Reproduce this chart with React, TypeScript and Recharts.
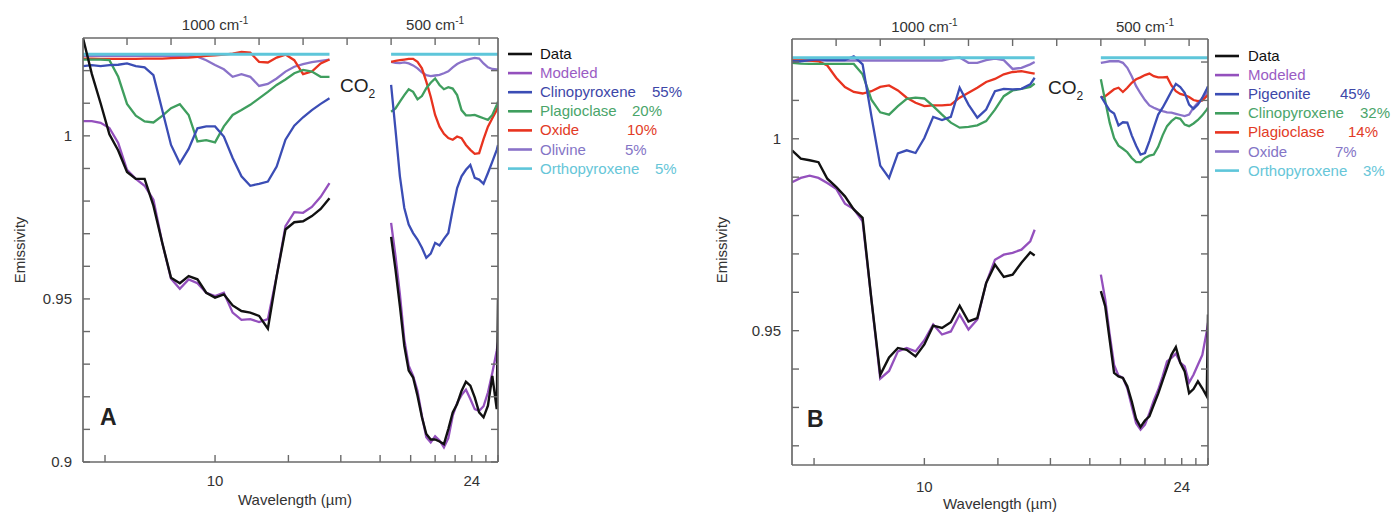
import React from 'react';
import { LineChart, Line, XAxis, YAxis } from 'recharts';

const FONT = '"Liberation Sans", Arial, Helvetica, sans-serif';
const AXIS = '#6a6a6a';
const TXT = '#333333';

// ---------- grids (wavenumber, cm^-1) ----------
const wnLeftA = [1300, 1280, 1260, 1240, 1220, 1200, 1180, 1160, 1140, 1120, 1100, 1080, 1060, 1040, 1020, 1000, 980, 960, 940, 920, 900, 880, 860, 840, 820, 800, 780, 760, 740];
const wnLeftB = [1300, 1280, 1260, 1240, 1220, 1200, 1180, 1160, 1140, 1120, 1100, 1080, 1060, 1040, 1020, 1000, 980, 960, 940, 920, 900, 880, 860, 840, 820, 800, 780, 760, 750];
const wnRight = [600, 590, 580, 570, 560, 550, 540, 530, 520, 510, 500, 490, 480, 470, 460, 450, 440, 430, 420, 410, 400, 390, 380, 370, 360, 357.14];

// ---------- tick labels ----------
const wavelengthTicks = [8, 10, 12, 14, 16, 18, 20, 22, 24, 26, 28];
const wavelengthLabels = [10, 24];
const wavenumberTicks = [1200, 1100, 1000, 900, 800, 700, 600, 500, 400];
const wavenumberLabels = [1000, 500];
const yTicksA = [0.9, 0.91, 0.92, 0.93, 0.94, 0.95, 0.96, 0.97, 0.98, 0.99, 1.0, 1.01, 1.02];
const yTicksB = [0.92, 0.93, 0.94, 0.95, 0.96, 0.97, 0.98, 0.99, 1.0, 1.01, 1.02];
const yLabelsA = [0.9, 0.95, 1];
const yLabelsB = [0.95, 1];

// ---------- Panel A series ----------
const aDataL = [1.0300, 1.0190, 1.0100, 1.0005, 0.9955, 0.9889, 0.9868, 0.9868, 0.9786, 0.9672, 0.9565, 0.9548, 0.9570, 0.9560, 0.9519, 0.9504, 0.9514, 0.9480, 0.9463, 0.9458, 0.9448, 0.9409, 0.9570, 0.9713, 0.9735, 0.9738, 0.9754, 0.9776, 0.9809];
const aDataR = [0.9690, 0.9590, 0.9478, 0.9356, 0.9280, 0.9259, 0.9203, 0.9137, 0.9086, 0.9069, 0.9069, 0.9063, 0.9055, 0.9101, 0.9152, 0.9178, 0.9218, 0.9246, 0.9234, 0.9198, 0.9152, 0.9137, 0.9173, 0.9264, 0.9162, 0.9499];
const aModelL = [1.0045, 1.0045, 1.0040, 1.0024, 0.9978, 0.9896, 0.9868, 0.9847, 0.9804, 0.9672, 0.9562, 0.9531, 0.9560, 0.9548, 0.9519, 0.9509, 0.9519, 0.9458, 0.9436, 0.9438, 0.9429, 0.9438, 0.9570, 0.9723, 0.9766, 0.9764, 0.9782, 0.9813, 0.9855];
const aModelR = [0.9733, 0.9631, 0.9514, 0.9376, 0.9295, 0.9264, 0.9218, 0.9142, 0.9076, 0.9060, 0.9079, 0.9066, 0.9045, 0.9073, 0.9142, 0.9181, 0.9205, 0.9222, 0.9193, 0.9162, 0.9157, 0.9171, 0.9213, 0.9274, 0.9341, 0.9366];
const aClinoL = [1.0214, 1.0217, 1.0214, 1.0217, 1.0218, 1.0222, 1.0214, 1.0210, 1.0186, 1.0079, 0.9972, 0.9916, 0.9960, 1.0023, 1.0029, 1.0029, 0.9998, 0.9932, 0.9876, 0.9847, 0.9853, 0.9860, 0.9906, 0.9988, 1.0031, 1.0057, 1.0079, 1.0098, 1.0115];
const aClinoR = [1.0156, 1.0018, 0.9876, 0.9779, 0.9728, 0.9702, 0.9682, 0.9657, 0.9626, 0.9639, 0.9672, 0.9664, 0.9684, 0.9702, 0.9774, 0.9840, 0.9876, 0.9896, 0.9911, 0.9871, 0.9866, 0.9853, 0.9886, 0.9921, 0.9957, 0.9972];
const aPlagL = [1.0234, 1.0234, 1.0234, 1.0232, 1.0181, 1.0098, 1.0062, 1.0044, 1.0041, 1.0061, 1.0085, 1.0097, 1.0064, 0.9983, 0.9987, 0.9980, 1.0029, 1.0064, 1.0079, 1.0095, 1.0115, 1.0135, 1.0156, 1.0173, 1.0192, 1.0202, 1.0197, 1.0181, 1.0181];
const aPlagR = [1.0074, 1.0084, 1.0105, 1.0125, 1.0143, 1.0135, 1.0112, 1.0122, 1.0146, 1.0163, 1.0176, 1.0156, 1.0143, 1.0149, 1.0145, 1.0125, 1.0079, 1.0063, 1.0063, 1.0064, 1.0059, 1.0054, 1.0049, 1.0064, 1.0095, 1.0105];
const aOxideL = [1.0237, 1.0237, 1.0236, 1.0236, 1.0236, 1.0236, 1.0236, 1.0237, 1.0237, 1.0237, 1.0238, 1.0239, 1.0240, 1.0242, 1.0245, 1.0247, 1.0249, 1.0252, 1.0257, 1.0255, 1.0227, 1.0225, 1.0240, 1.0249, 1.0232, 1.0189, 1.0197, 1.0222, 1.0234];
const aOxideR = [1.0227, 1.0230, 1.0232, 1.0234, 1.0236, 1.0236, 1.0227, 1.0207, 1.0166, 1.0120, 1.0064, 1.0028, 1.0006, 0.9993, 0.9988, 0.9998, 0.9993, 0.9972, 0.9957, 0.9945, 0.9947, 0.9990, 1.0028, 1.0054, 1.0079, 1.0092];
const aOlivL = [1.0245, 1.0245, 1.0245, 1.0245, 1.0245, 1.0245, 1.0245, 1.0245, 1.0245, 1.0245, 1.0245, 1.0245, 1.0245, 1.0243, 1.0232, 1.0217, 1.0204, 1.0181, 1.0189, 1.0181, 1.0153, 1.0159, 1.0176, 1.0197, 1.0212, 1.0220, 1.0226, 1.0230, 1.0234];
const aOlivR = [1.0227, 1.0224, 1.0223, 1.0225, 1.0222, 1.0216, 1.0207, 1.0195, 1.0186, 1.0183, 1.0185, 1.0187, 1.0192, 1.0198, 1.0210, 1.0220, 1.0227, 1.0232, 1.0236, 1.0239, 1.0237, 1.0222, 1.0210, 1.0205, 1.0204, 1.0204];
const aOrthoL = [1.025, 1.025, 1.025, 1.025, 1.025, 1.025, 1.025, 1.025, 1.025, 1.025, 1.025, 1.025, 1.025, 1.025, 1.025, 1.025, 1.025, 1.025, 1.025, 1.025, 1.025, 1.025, 1.025, 1.025, 1.025, 1.025, 1.025, 1.025, 1.025];
const aOrthoR = [1.025, 1.025, 1.025, 1.025, 1.025, 1.025, 1.025, 1.025, 1.025, 1.025, 1.025, 1.025, 1.025, 1.025, 1.025, 1.025, 1.025, 1.025, 1.025, 1.025, 1.025, 1.025, 1.025, 1.025, 1.025, 1.025];

// ---------- Panel B series ----------
const bDataL = [0.9970, 0.9948, 0.9944, 0.9939, 0.9896, 0.9875, 0.9850, 0.9816, 0.9794, 0.9581, 0.9385, 0.9430, 0.9455, 0.9450, 0.9433, 0.9464, 0.9513, 0.9507, 0.9522, 0.9565, 0.9524, 0.9533, 0.9624, 0.9672, 0.9640, 0.9646, 0.9677, 0.9704, 0.9696];
const bDataR = [0.9603, 0.9563, 0.9476, 0.9390, 0.9381, 0.9377, 0.9355, 0.9316, 0.9270, 0.9249, 0.9266, 0.9277, 0.9307, 0.9336, 0.9370, 0.9403, 0.9437, 0.9457, 0.9416, 0.9394, 0.9337, 0.9348, 0.9368, 0.9350, 0.9329, 0.9542];
const bModelL = [0.9887, 0.9898, 0.9904, 0.9898, 0.9885, 0.9870, 0.9831, 0.9817, 0.9785, 0.9581, 0.9375, 0.9395, 0.9446, 0.9455, 0.9446, 0.9475, 0.9516, 0.9490, 0.9498, 0.9542, 0.9503, 0.9529, 0.9624, 0.9685, 0.9698, 0.9703, 0.9711, 0.9733, 0.9763];
const bModelR = [0.9646, 0.9581, 0.9490, 0.9411, 0.9383, 0.9377, 0.9350, 0.9303, 0.9259, 0.9242, 0.9255, 0.9285, 0.9318, 0.9346, 0.9381, 0.9420, 0.9429, 0.9440, 0.9417, 0.9407, 0.9365, 0.9385, 0.9411, 0.9437, 0.9498, 0.9520];
const bPigL = [1.0202, 1.0202, 1.0205, 1.0207, 1.0205, 1.0205, 1.0205, 1.0215, 1.0194, 1.0059, 0.9930, 0.9898, 0.9962, 0.9970, 0.9963, 1.0002, 1.0057, 1.0049, 1.0057, 1.0133, 1.0089, 1.0055, 1.0076, 1.0124, 1.0130, 1.0129, 1.0130, 1.0142, 1.0159];
const bPigR = [1.0111, 1.0092, 1.0074, 1.0066, 1.0035, 1.0043, 1.0042, 1.0009, 0.9982, 0.9959, 0.9963, 0.9994, 1.0029, 1.0063, 1.0081, 1.0102, 1.0124, 1.0143, 1.0135, 1.0120, 1.0089, 1.0078, 1.0089, 1.0107, 1.0130, 1.0137];
const bClinoL = [1.0198, 1.0196, 1.0195, 1.0195, 1.0195, 1.0195, 1.0195, 1.0195, 1.0168, 1.0102, 1.0069, 1.0063, 1.0085, 1.0104, 1.0107, 1.0105, 1.0085, 1.0063, 1.0042, 1.0029, 1.0031, 1.0035, 1.0046, 1.0076, 1.0111, 1.0126, 1.0130, 1.0135, 1.0144];
const bClinoR = [1.0155, 1.0098, 1.0042, 1.0002, 0.9982, 0.9974, 0.9965, 0.9950, 0.9939, 0.9939, 0.9950, 0.9956, 0.9959, 0.9979, 1.0009, 1.0033, 1.0046, 1.0055, 1.0052, 1.0037, 1.0033, 1.0040, 1.0049, 1.0061, 1.0076, 1.0081];
const bPlagL = [1.0205, 1.0205, 1.0204, 1.0202, 1.0191, 1.0159, 1.0135, 1.0122, 1.0118, 1.0124, 1.0135, 1.0139, 1.0126, 1.0107, 1.0094, 1.0085, 1.0087, 1.0087, 1.0089, 1.0107, 1.0120, 1.0133, 1.0148, 1.0156, 1.0168, 1.0174, 1.0176, 1.0172, 1.0170];
const bPlagR = [1.0107, 1.0111, 1.0120, 1.0129, 1.0133, 1.0122, 1.0133, 1.0146, 1.0155, 1.0160, 1.0166, 1.0170, 1.0163, 1.0160, 1.0160, 1.0161, 1.0139, 1.0124, 1.0117, 1.0114, 1.0109, 1.0101, 1.0098, 1.0100, 1.0111, 1.0115];
const bOxideL = [1.0204, 1.0204, 1.0204, 1.0204, 1.0204, 1.0204, 1.0204, 1.0204, 1.0204, 1.0204, 1.0204, 1.0204, 1.0204, 1.0204, 1.0204, 1.0204, 1.0204, 1.0204, 1.0209, 1.0212, 1.0198, 1.0198, 1.0205, 1.0209, 1.0205, 1.0182, 1.0185, 1.0194, 1.0200];
const bOxideR = [1.0198, 1.0200, 1.0202, 1.0202, 1.0202, 1.0198, 1.0185, 1.0163, 1.0137, 1.0118, 1.0101, 1.0087, 1.0081, 1.0076, 1.0072, 1.0069, 1.0068, 1.0065, 1.0062, 1.0059, 1.0063, 1.0081, 1.0094, 1.0101, 1.0120, 1.0124];
const bOrthoL = [1.0211, 1.0211, 1.0211, 1.0211, 1.0211, 1.0211, 1.0211, 1.0211, 1.0211, 1.0211, 1.0211, 1.0211, 1.0211, 1.0211, 1.0211, 1.0211, 1.0211, 1.0211, 1.0211, 1.0211, 1.0211, 1.0211, 1.0211, 1.0211, 1.0211, 1.0211, 1.0211, 1.0211, 1.0211];
const bOrthoR = [1.0211, 1.0211, 1.0211, 1.0211, 1.0211, 1.0211, 1.0211, 1.0211, 1.0211, 1.0211, 1.0211, 1.0211, 1.0211, 1.0211, 1.0211, 1.0211, 1.0211, 1.0211, 1.0211, 1.0211, 1.0211, 1.0211, 1.0211, 1.0211, 1.0211, 1.0211];

// ---------- legend names ----------
const namesA = ['Data', 'Modeled', 'Clinopyroxene', 'Plagioclase', 'Oxide', 'Olivine', 'Orthopyroxene'];
const pctA = ['', '', '55%', '20%', '10%', '5%', '5%'];
const namesB = ['Data', 'Modeled', 'Pigeonite', 'Clinopyroxene', 'Plagioclase', 'Oxide', 'Orthopyroxene'];
const pctB = ['', '', '45%', '32%', '14%', '7%', '3%'];

// ---------- styles ----------
const COLORS = ['#111111', '#9450bd', '#3b4db5', '#3f9e5e', '#e8331f', '#8a72c9', '#5ec6da'];
const TEXT_COLORS = ['#111111', '#9a5cc4', '#3d47a8', '#4aa56a', '#e23b26', '#8475c6', '#66c6d8'];
const WIDTHS = [2.4, 2.3, 2.3, 2.3, 2.3, 2.3, 3];
const DRAW_ORDER = [5, 4, 3, 2, 6, 1, 0];
const pctXA = [0, 0, 652, 632, 627, 625, 655];
const pctXB = [0, 0, 1340, 1360, 1348, 1335, 1363];

type Row = { [k: string]: number | null };

function buildRows(wnL: number[], wnR: number[], left: number[][], right: number[][]): Row[] {
  const rows: Row[] = [];
  wnL.forEach((wn, i) => {
    const r: Row = { wn };
    left.forEach((s, j) => (r['s' + j] = s[i]));
    rows.push(r);
  });
  const gap: Row = { wn: 675 };
  left.forEach((_, j) => (gap['s' + j] = null));
  rows.push(gap);
  wnR.forEach((wn, i) => {
    const r: Row = { wn };
    right.forEach((s, j) => (r['s' + j] = s[i]));
    rows.push(r);
  });
  return rows;
}

const rowsA = buildRows(wnLeftA, wnRight,
  [aDataL, aModelL, aClinoL, aPlagL, aOxideL, aOlivL, aOrthoL],
  [aDataR, aModelR, aClinoR, aPlagR, aOxideR, aOlivR, aOrthoR]);
const rowsB = buildRows(wnLeftB, wnRight,
  [bDataL, bModelL, bPigL, bClinoL, bPlagL, bOxideL, bOrthoL],
  [bDataR, bModelR, bPigR, bClinoR, bPlagR, bOxideR, bOrthoR]);

const near = (a: number, b: number) => Math.abs(a - b) < 1e-6;
const axisLineStyle = { stroke: AXIS, strokeWidth: 1.7 };

type PanelProps = {
  left: number; width: number; height: number;
  margin: { top: number; right: number; bottom: number; left: number };
  yDomain: [number, number]; yTicks: number[]; yLabels: number[];
  rows: Row[]; bottomLabelDy: number; topLabelDy: number;
};

function Panel(p: PanelProps) {
  const bottomTicks = wavelengthTicks.map((l) => 10000 / l);
  const BottomTick = (props: any) => {
    const { x, y, payload } = props;
    const lam = 10000 / payload.value;
    const lab = wavelengthLabels.find((l) => Math.abs(l - lam) < 0.01);
    return (
      <g>
        <line x1={x} x2={x} y1={y} y2={y - 7} stroke={AXIS} strokeWidth={1.4} />
        {lab !== undefined && (
          <text x={x} y={y + p.bottomLabelDy} textAnchor="middle" fontSize={15} fontFamily={FONT} fill={TXT}>{lab}</text>
        )}
      </g>
    );
  };
  const TopTick = (props: any) => {
    const { x, y, payload } = props;
    const lab = wavenumberLabels.find((l) => near(l, payload.value));
    return (
      <g>
        <line x1={x} x2={x} y1={y} y2={y + 7} stroke={AXIS} strokeWidth={1.4} />
        {lab !== undefined && (
          <text x={x} y={y + p.topLabelDy} textAnchor="middle" fontSize={15} fontFamily={FONT} fill={TXT}>
            {lab} cm<tspan dy={-6} fontSize={10}>-1</tspan>
          </text>
        )}
      </g>
    );
  };
  const LeftTick = (props: any) => {
    const { x, y, payload } = props;
    const lab = p.yLabels.find((l) => near(l, payload.value));
    return (
      <g>
        <line x1={x} x2={x + 7} y1={y} y2={y} stroke={AXIS} strokeWidth={1.4} />
        {lab !== undefined && (
          <text x={x - 11} y={y + 5} textAnchor="end" fontSize={15} fontFamily={FONT} fill={TXT}>{String(lab)}</text>
        )}
      </g>
    );
  };
  const RightTick = (props: any) => {
    const { x, y } = props;
    return <line x1={x} x2={x - 7} y1={y} y2={y} stroke={AXIS} strokeWidth={1.4} />;
  };
  const m = p.margin;
  return (
    <div style={{ position: 'absolute', left: p.left, top: 0 }}>
      <LineChart width={p.width} height={p.height} data={p.rows}
        margin={{ top: m.top - 1, right: m.right - 1, bottom: m.bottom - 1, left: m.left - 1 }}>
        <XAxis xAxisId="b" dataKey="wn" type="number" domain={[357.14, 1300]} reversed allowDataOverflow
          ticks={bottomTicks} interval={0} height={1} tickSize={0} tickMargin={0} tickLine={false}
          axisLine={axisLineStyle} tick={BottomTick} />
        <XAxis xAxisId="t" dataKey="wn" orientation="top" type="number" domain={[357.14, 1300]} reversed allowDataOverflow
          ticks={wavenumberTicks} interval={0} height={1} tickSize={0} tickMargin={0} tickLine={false}
          axisLine={axisLineStyle} tick={TopTick} />
        <YAxis yAxisId="l" type="number" domain={p.yDomain} allowDataOverflow ticks={p.yTicks} interval={0}
          width={1} tickSize={0} tickMargin={0} tickLine={false} axisLine={axisLineStyle} tick={LeftTick} />
        <YAxis yAxisId="r" orientation="right" type="number" domain={p.yDomain} allowDataOverflow ticks={p.yTicks} interval={0}
          width={1} tickSize={0} tickMargin={0} tickLine={false} axisLine={axisLineStyle} tick={RightTick} />
        {DRAW_ORDER.map((j) => (
          <Line key={j} xAxisId="b" yAxisId="l" type="linear" dataKey={'s' + j} stroke={COLORS[j]}
            strokeWidth={WIDTHS[j]} dot={false} activeDot={false} connectNulls={false} isAnimationActive={false} />
        ))}
      </LineChart>
    </div>
  );
}

function LegendSvg({ names, pcts, pctX, lineX, textX, y0 }: { names: string[]; pcts: string[]; pctX: number[]; lineX: number; textX: number; y0: number }) {
  return (
    <g fontFamily={FONT} fontSize={15}>
      {names.map((n, i) => {
        const y = y0 + i * 19.1;
        return (
          <g key={n + i}>
            <line x1={lineX} x2={lineX + 24} y1={y} y2={y} stroke={COLORS[i]} strokeWidth={2.6} />
            <text x={textX} y={y + 5} fill={TEXT_COLORS[i]}>{n}</text>
            {pcts[i] && <text x={pctX[i]} y={y + 5} fill={TEXT_COLORS[i]}>{pcts[i]}</text>}
          </g>
        );
      })}
    </g>
  );
}

export default function App() {
  return (
    <div style={{ position: 'absolute', left: 0, top: 0, width: 1393, height: 514, background: '#fff', overflow: 'hidden' }}>
      <Panel left={0} width={700} height={514} margin={{ top: 38, right: 202, bottom: 52, left: 83 }}
        yDomain={[0.9, 1.03]} yTicks={yTicksA} yLabels={yLabelsA} rows={rowsA} bottomLabelDy={24} topLabelDy={-8} />
      <Panel left={700} width={693} height={514} margin={{ top: 39, right: 185, bottom: 49, left: 92 }}
        yDomain={[0.915, 1.026]} yTicks={yTicksB} yLabels={yLabelsB} rows={rowsB} bottomLabelDy={27} topLabelDy={-7} />
      <svg width={1393} height={514} style={{ position: 'absolute', left: 0, top: 0, pointerEvents: 'none' }}>
        <LegendSvg names={namesA} pcts={pctA} pctX={pctXA} lineX={508} textX={540} y0={54} />
        <LegendSvg names={namesB} pcts={pctB} pctX={pctXB} lineX={1215} textX={1248} y0={56} />
        <g fontFamily={FONT} fill="#222">
          <text x={340} y={92} fontSize={19}>CO<tspan dy={6} fontSize={12}>2</tspan></text>
          <text x={1048} y={94} fontSize={19}>CO<tspan dy={6} fontSize={12}>2</tspan></text>
          <text x={100} y={425} fontSize={23} fontWeight="bold">A</text>
          <text x={807} y={427} fontSize={23} fontWeight="bold">B</text>
          <text transform="translate(25,250) rotate(-90)" textAnchor="middle" fontSize={15} fill={TXT}>Emissivity</text>
          <text transform="translate(727,250) rotate(-90)" textAnchor="middle" fontSize={15} fill={TXT}>Emissivity</text>
          <text x={295} y={505} textAnchor="middle" fontSize={15} fill={TXT}>Wavelength (µm)</text>
          <text x={1000} y={509} textAnchor="middle" fontSize={15} fill={TXT}>Wavelength (µm)</text>
        </g>
      </svg>
    </div>
  );
}
